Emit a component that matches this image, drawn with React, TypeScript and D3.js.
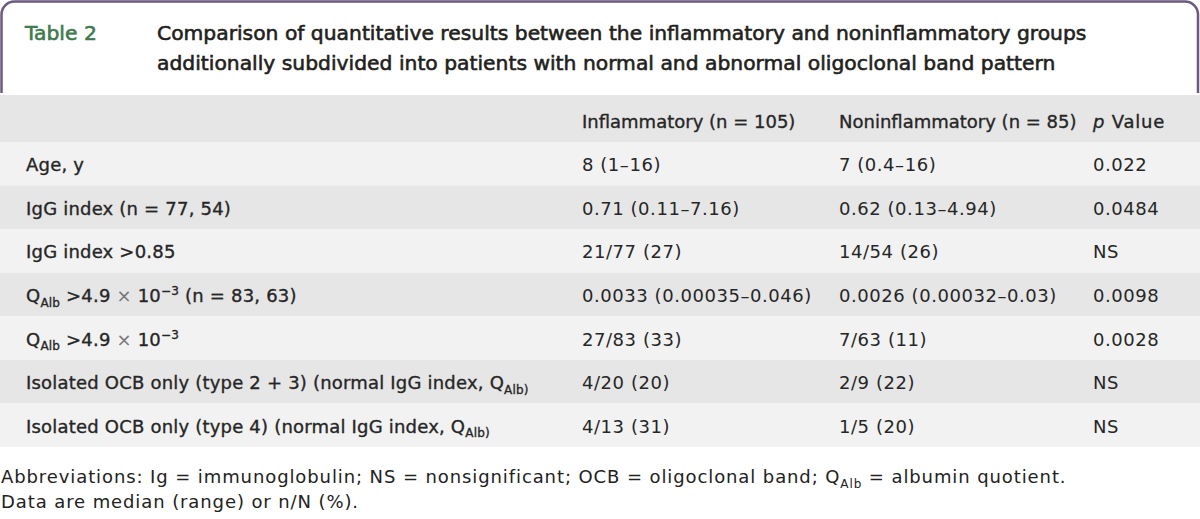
import React from "react";
import * as d3 from "d3";

type Seg = { t: string; sub?: boolean; sup?: boolean; italic?: boolean; light?: boolean };

const tableNumber = "Table 2";
const titleLines = [
  "Comparison of quantitative results between the inflammatory and noninflammatory groups",
  "additionally subdivided into patients with normal and abnormal oligoclonal band pattern",
];

const columnHeaders: Seg[][] = [
  [{ t: "" }],
  [{ t: "Inflammatory (n = 105)" }],
  [{ t: "Noninflammatory (n = 85)" }],
  [{ t: "p", italic: true }, { t: " Value" }],
];

const rowLabels: Seg[][] = [
  [{ t: "Age, y" }],
  [{ t: "IgG index (n = 77, 54)" }],
  [{ t: "IgG index >0.85" }],
  [{ t: "Q" }, { t: "Alb", sub: true }, { t: " >4.9 " }, { t: "×", light: true }, { t: " 10" }, { t: "−3", sup: true }, { t: " (n = 83, 63)" }],
  [{ t: "Q" }, { t: "Alb", sub: true }, { t: " >4.9 " }, { t: "×", light: true }, { t: " 10" }, { t: "−3", sup: true }],
  [{ t: "Isolated OCB only (type 2 + 3) (normal IgG index, Q" }, { t: "Alb)", sub: true }],
  [{ t: "Isolated OCB only (type 4) (normal IgG index, Q" }, { t: "Alb)", sub: true }],
];

const inflammatory = ["8 (1–16)", "0.71 (0.11–7.16)", "21/77 (27)", "0.0033 (0.00035–0.046)", "27/83 (33)", "4/20 (20)", "4/13 (31)"];
const noninflammatory = ["7 (0.4–16)", "0.62 (0.13–4.94)", "14/54 (26)", "0.0026 (0.00032–0.03)", "7/63 (11)", "2/9 (22)", "1/5 (20)"];
const pValues = ["0.022", "0.0484", "NS", "0.0098", "0.0028", "NS", "NS"];

const footnoteLines: Seg[][] = [
  [{ t: "Abbreviations: Ig = immunoglobulin; NS = nonsignificant; OCB = oligoclonal band; Q" }, { t: "Alb", sub: true }, { t: " = albumin quotient." }],
  [{ t: "Data are median (range) or n/N (%)." }],
];

const W = 1200;
const H = 519;
const FONT = "'DejaVu Sans', 'Noto Sans', sans-serif";
const TEXT = "#262626";

function RichText({
  segs, x, y, size, family, fill, stroke, spacing,
}: { segs: Seg[]; x: number; y: number; size: number; family: string; fill: string; stroke?: number; spacing?: number }) {
  const small = Math.round(size * 0.66);
  const out: React.ReactNode[] = [];
  let shift = 0;
  segs.forEach((s, i) => {
    let target = 0;
    if (s.sub) target = size * 0.25;
    if (s.sup) target = -size * 0.38;
    const dy = target - shift;
    shift = target;
    out.push(
      <tspan
        key={i}
        dy={dy}
        fontSize={s.sub || s.sup ? small : size}
        fontStyle={s.italic ? "italic" : undefined}
        fill={s.light ? "#777" : undefined}
        stroke={s.light ? "none" : undefined}
      >
        {s.t}
      </tspan>
    );
  });
  return (
    <text
      x={x}
      y={y}
      fontSize={size}
      fontFamily={family}
      fill={fill}
      stroke={stroke ? fill : undefined}
      strokeWidth={stroke}
      letterSpacing={spacing}
      style={{ whiteSpace: "pre" }}
    >
      {out}
    </text>
  );
}

export default function App() {
  const rowIdx = d3.range(rowLabels.length);
  const tableTop = 95;
  const headerBottom = 142;
  const tableBottom = 447;
  const y = d3.scaleBand<number>().domain(rowIdx).range([headerBottom, tableBottom]).padding(0);
  const colX = d3.scaleOrdinal<number, number>().domain([0, 1, 2, 3]).range([26, 582, 839, 1093]);
  const rowSize = 18;
  const columns = [rowLabels, inflammatory.map((v) => [{ t: v }]), noninflammatory.map((v) => [{ t: v }]), pValues.map((v) => [{ t: v }])];

  const boxBottom = 93;
  const r = 13;
  const boxPath = `M1.5,${boxBottom} L1.5,${1.5 + r} A${r},${r} 0 0 1 ${1.5 + r},1.5 L${W - 2 - r},1.5 A${r},${r} 0 0 1 ${W - 2},${1.5 + r} L${W - 2},${boxBottom}`;

  return (
    <svg width={W} height={H} style={{ position: "absolute", left: 0, top: 0, background: "#fff" }}>
      <path d={boxPath} fill="none" stroke="#6b5a7c" strokeWidth={2.5} />
      <RichText segs={[{ t: tableNumber }]} x={25} y={40} size={20.3} family={FONT} fill="#3e7a4c" stroke={0.6} />
      {titleLines.map((l, i) => (
        <RichText key={i} segs={[{ t: l }]} x={157} y={40 + i * 29.5} size={20.3} family={FONT} fill="#231f20" stroke={0.6} />
      ))}
      <rect x={0} y={tableTop} width={W} height={headerBottom - tableTop} fill="#e6e6e6" />
      {rowIdx.map((i) => (
        <rect key={i} x={0} y={y(i)!} width={W} height={y.bandwidth()} fill={i % 2 === 0 ? "#f2f2f2" : "#e6e6e6"} />
      ))}
      {columnHeaders.map((h, c) => (
        <RichText key={c} segs={h} x={colX(c)} y={128} size={rowSize} family={FONT} fill={TEXT} stroke={0.35} spacing={c === 3 ? 0.8 : 0} />
      ))}
      {columns.map((col, c) =>
        col.map((segs, i) => (
          <RichText
            key={`${c}-${i}`}
            segs={segs as Seg[]}
            x={colX(c)}
            y={y(i)! + y.bandwidth() / 2 + 7.5}
            size={rowSize}
            family={FONT}
            fill={TEXT}
            stroke={c === 0 ? 0.35 : undefined}
            spacing={c === 0 ? 0.2 : 0.55}
          />
        ))
      )}
      {footnoteLines.map((segs, i) => (
        <RichText key={i} segs={segs} x={1} y={483 + i * 25} size={18} family={FONT} fill="#222" spacing={0.9} />
      ))}
    </svg>
  );
}
